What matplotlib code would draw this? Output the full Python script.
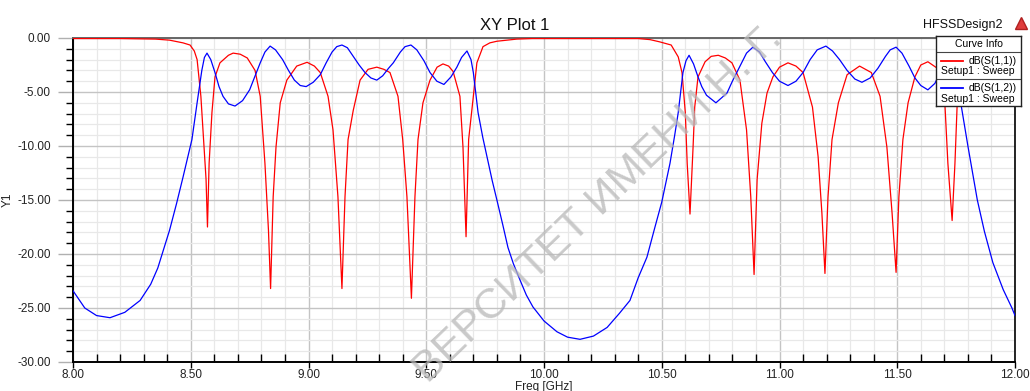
import numpy as np
import matplotlib
matplotlib.use("Agg")
import matplotlib.pyplot as plt
from matplotlib.ticker import MultipleLocator, FormatStrFormatter

plt.rcParams["font.family"] = ["Liberation Sans", "DejaVu Sans"]

# dB(S(1,1))
s11_freq = [8.00, 8.20, 8.35, 8.41, 8.467, 8.497, 8.515, 8.527, 8.543, 8.552,
            8.565, 8.571, 8.578, 8.59, 8.603, 8.624, 8.66, 8.68, 8.71, 8.74,
            8.773, 8.795, 8.815, 8.83, 8.839, 8.85, 8.862, 8.88, 8.908, 8.95,
            8.994, 9.025, 9.05, 9.083, 9.104, 9.125, 9.142, 9.155, 9.168, 9.19,
            9.219, 9.253, 9.29, 9.32, 9.346, 9.38, 9.40, 9.418, 9.437, 9.452,
            9.465, 9.486, 9.516, 9.546, 9.571, 9.595, 9.614, 9.643, 9.656, 9.669,
            9.68, 9.70, 9.715, 9.741, 9.77, 9.80, 9.885, 9.95, 10.40, 10.45,
            10.49, 10.54, 10.57, 10.586, 10.60, 10.608, 10.62, 10.633, 10.64, 10.654,
            10.684, 10.71, 10.74, 10.77, 10.798, 10.832, 10.86, 10.878, 10.892, 10.905,
            10.925, 10.947, 10.972, 11.0, 11.036, 11.07, 11.10, 11.14, 11.164, 11.18,
            11.193, 11.206, 11.223, 11.25, 11.287, 11.34, 11.39, 11.427, 11.456, 11.478,
            11.495, 11.507, 11.524, 11.546, 11.575, 11.60, 11.63, 11.67, 11.703, 11.715,
            11.733, 11.745, 11.754, 11.77, 11.80, 11.85, 11.92, 12.0]
s11_db = [-0.05, -0.05, -0.1, -0.2, -0.45, -0.65, -1.2, -2.0, -5.4, -8.5,
          -13.1, -17.5, -11.6, -6.9, -3.6, -2.3, -1.6, -1.4, -1.5, -1.85,
          -3.0, -5.4, -11.6, -17.8, -23.2, -14.7, -10.1, -6.0, -3.9, -2.6,
          -2.25, -2.6, -3.2, -5.4, -8.5, -14.7, -23.2, -14.7, -9.4, -6.7,
          -3.9, -2.9, -2.7, -2.9, -3.2, -5.4, -9.4, -14.7, -24.1, -14.7,
          -9.4, -6.0, -3.9, -2.7, -2.4, -2.6, -3.1, -5.4, -10.1, -18.4,
          -9.4, -5.4, -2.3, -0.8, -0.45, -0.3, -0.1, -0.05, -0.05, -0.15,
          -0.35, -0.65, -1.75, -3.2, -6.9, -11.6, -16.3, -10.1, -6.4, -3.6,
          -2.2, -1.7, -1.6, -1.85, -2.3, -3.9, -8.5, -14.7, -21.9, -13.1,
          -7.9, -5.1, -3.6, -2.7, -2.3, -2.6, -3.2, -6.4, -11.0, -16.2,
          -21.8, -14.7, -9.4, -6.0, -3.4, -2.6, -3.2, -5.4, -10.1, -16.2,
          -21.7, -14.7, -9.4, -6.0, -3.6, -2.5, -2.2, -2.8, -6.4, -11.6,
          -16.9, -11.6, -6.4, -3.0, -1.2, -0.5, -0.2, -0.1]

# dB(S(1,2))
s12_freq = [8.00, 8.05, 8.10, 8.157, 8.22, 8.285, 8.33, 8.36, 8.41, 8.44,
            8.467, 8.49, 8.505, 8.527, 8.547, 8.558, 8.569, 8.585, 8.603, 8.62,
            8.637, 8.66, 8.688, 8.72, 8.75, 8.775, 8.795, 8.815, 8.837, 8.86,
            8.89, 8.915, 8.94, 8.965, 8.99, 9.02, 9.05, 9.075, 9.10, 9.12,
            9.142, 9.165, 9.19, 9.215, 9.24, 9.265, 9.29, 9.315, 9.34, 9.36,
            9.39, 9.41, 9.435, 9.46, 9.49, 9.516, 9.545, 9.575, 9.605, 9.63,
            9.65, 9.673, 9.69, 9.70, 9.72, 9.74, 9.758, 9.78, 9.80, 9.825,
            9.847, 9.87, 9.898, 9.925, 9.953, 10.00, 10.055, 10.10, 10.153, 10.21,
            10.268, 10.32, 10.365, 10.40, 10.437, 10.47, 10.50, 10.535, 10.555, 10.57,
            10.59, 10.603, 10.616, 10.635, 10.654, 10.67, 10.69, 10.73, 10.777, 10.80,
            10.83, 10.86, 10.887, 10.915, 10.94, 10.97, 11.0, 11.036, 11.07, 11.10,
            11.13, 11.16, 11.197, 11.225, 11.255, 11.287, 11.32, 11.35, 11.385, 11.418,
            11.45, 11.47, 11.495, 11.52, 11.55, 11.575, 11.60, 11.63, 11.66, 11.69,
            11.72, 11.735, 11.75, 11.762, 11.775, 11.80, 11.84, 11.87, 11.906, 11.95,
            11.987, 12.00]
s12_db = [-23.4, -25.0, -25.7, -25.9, -25.4, -24.3, -22.8, -21.3, -17.8, -15.3,
          -12.9, -10.8, -9.4, -6.0, -3.0, -1.8, -1.4, -2.0, -3.2, -4.5,
          -5.4, -6.1, -6.3, -5.8, -4.8, -3.4, -2.3, -1.3, -0.75, -1.1,
          -2.0, -3.0, -3.9, -4.4, -4.5, -4.1, -3.4, -2.3, -1.3, -0.8,
          -0.65, -0.9, -1.7, -2.5, -3.2, -3.7, -3.9, -3.5, -2.8, -2.3,
          -1.3, -0.8, -0.65, -1.1, -2.1, -3.2, -4.0, -4.3, -3.6, -2.7,
          -1.8, -1.2, -2.0, -3.2, -6.9, -9.2, -11.0, -13.2, -15.0, -17.3,
          -19.4, -20.9, -22.4, -23.8, -24.9, -26.2, -27.2, -27.7, -27.9, -27.6,
          -26.8, -25.5, -24.3, -22.2, -20.3, -17.6, -15.2, -11.6, -9.0, -6.9,
          -3.2, -2.1, -1.6, -2.4, -3.6, -4.5, -5.3, -6.0, -5.1, -4.0,
          -2.7, -1.4, -0.85, -1.3, -2.2, -3.2, -4.0, -4.4, -4.0, -3.2,
          -2.0, -1.1, -0.75, -1.2, -2.0, -3.0, -3.8, -4.1, -3.7, -2.8,
          -1.7, -1.1, -0.85, -1.4, -2.6, -3.7, -4.4, -4.8, -4.2, -2.8,
          -1.8, -1.6, -3.0, -5.0, -6.7, -10.0, -15.0, -17.9, -20.8, -23.3,
          -25.0, -25.7]

series_labels = ["dB(S(1,1))", "dB(S(1,2))"]
series_colors = ["#ff0000", "#0000ff"]

W, H = 1030, 391
fig = plt.figure(figsize=(W / 100, H / 100), dpi=100)
ax = fig.add_axes([73 / W, 1 - 362 / H, (1015 - 73) / W, (362 - 38) / H])

ax.plot(s11_freq, s11_db, color=series_colors[0], lw=0.9, zorder=3)
ax.plot(s12_freq, s12_db, color=series_colors[1], lw=0.9, zorder=3)

ax.set_xlim(8.0, 12.0)
ax.set_ylim(-30.0, 0.0)
ax.xaxis.set_major_locator(MultipleLocator(0.5))
ax.xaxis.set_minor_locator(MultipleLocator(0.1))
ax.yaxis.set_major_locator(MultipleLocator(5))
ax.yaxis.set_minor_locator(MultipleLocator(1))
ax.xaxis.set_major_formatter(FormatStrFormatter("%.2f"))
ax.yaxis.set_major_formatter(FormatStrFormatter("%.2f"))

ax.grid(which="major", color="#c4c4c4", lw=1.0, zorder=1)
ax.grid(which="minor", color="#e8e8e8", lw=0.9, zorder=0)
ax.set_axisbelow(True)

ax.tick_params(axis="y", which="major", direction="out", length=11, width=1,
               color="#b0b0b0", pad=5, labelsize=8.5, labelcolor="#222222")
ax.tick_params(axis="y", which="minor", direction="out", length=5, width=1,
               color="black")
ax.tick_params(axis="x", which="major", direction="out", length=4, width=1,
               color="black", pad=1, labelsize=8.5, labelcolor="#222222")
ax.tick_params(axis="x", which="minor", direction="in", length=6, width=1,
               color="black")

for side in ["left", "bottom"]:
    ax.spines[side].set_linewidth(1.4)
    ax.spines[side].set_color("black")
ax.spines["right"].set_linewidth(1.2)
ax.spines["right"].set_color("black")
ax.spines["top"].set_linewidth(1.4)
ax.spines["top"].set_color("#666666")

ax.set_xlabel("Freq [GHz]", fontsize=8.5, labelpad=0, color="#222222")
ax.set_ylabel("Y1", fontsize=8.5, color="#222222")
ax.yaxis.set_label_coords(-59 / (1015 - 73), 0.5)

fig.text(0.5, 1 - 30 / H, "XY Plot 1", ha="center", va="baseline",
         fontsize=12, color="#111111")
fig.text(923 / W, 1 - 28 / H, "HFSSDesign2", ha="left", va="baseline",
         fontsize=9, color="#111111")
fig.add_artist(plt.Line2D([1021 / W], [1 - 23 / H], marker="^", markersize=8,
                          color="#e03c3c", markeredgecolor="#b02020"))

# watermark
fig.text(428 / W, 1 - 384 / H, "ВЕРСИТЕТ ИМЕНИ Н. Г.", rotation=44,
         rotation_mode="anchor", ha="left", va="baseline", fontsize=31,
         color="#b8b8b8", alpha=0.75, zorder=10)

# curve info box
lg = fig.add_axes([936 / W, 1 - 106 / H, (1021 - 936) / W, (106 - 36) / H])
lg.set_xlim(936, 1021)
lg.set_ylim(106, 36)
lg.set_xticks([])
lg.set_yticks([])
for sp in lg.spines.values():
    sp.set_color("#222222")
    sp.set_linewidth(1.0)
lg.set_facecolor("white")
lg.text(978.5, 44, "Curve Info", ha="center", va="center", fontsize=7.5)
lg.axhline(51.7, color="#444444", lw=0.8)
lg.axhline(79.3, color="#444444", lw=0.8)
for i, (lab, col) in enumerate(zip(series_labels, series_colors)):
    y0 = 61 + i * 27
    lg.plot([941, 963], [y0, y0], color=col, lw=1.3)
    lg.text(1017, y0, lab, ha="right", va="center", fontsize=7.5)
    lg.text(941, y0 + 10.5, "Setup1 : Sweep", ha="left", va="center", fontsize=7.5)

fig.savefig("out.png", dpi=100)
